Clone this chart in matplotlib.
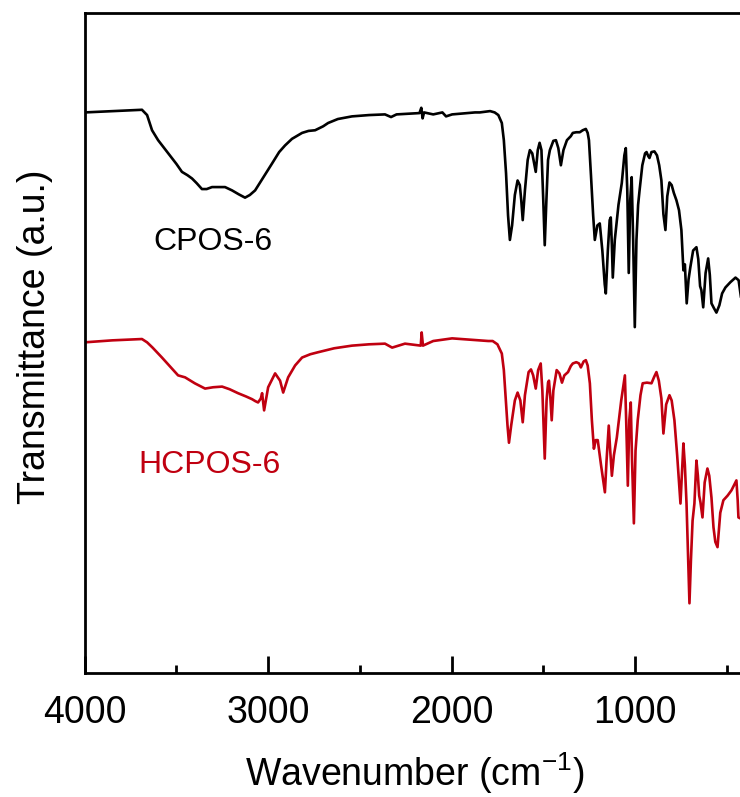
import matplotlib
matplotlib.use("Agg")
import matplotlib.pyplot as plt
from matplotlib.ticker import MultipleLocator

plt.rcParams['font.family'] = ['Liberation Sans', 'DejaVu Sans']

# CPOS-6 (black) — wavenumber (cm^-1) and transmittance (a.u.)
cpos_wn = [4000, 3850, 3688, 3660, 3633, 3600, 3550, 3500, 3470, 3440, 3415, 3390,
           3361, 3335, 3306, 3270, 3235, 3197, 3160, 3126, 3100, 3071, 3030, 2978,
           2940, 2908, 2870, 2815, 2780, 2744, 2700, 2673, 2620, 2543, 2450, 2363,
           2330, 2300, 2175, 2165, 2158, 2150, 2100, 2050, 2030, 1997, 1872, 1846,
           1790, 1765, 1745, 1726, 1715, 1703, 1692, 1682, 1670, 1655, 1640, 1628,
           1620, 1612, 1600, 1585, 1573, 1560, 1550, 1541, 1530, 1520, 1510, 1500,
           1492, 1483, 1474, 1464, 1445, 1431, 1418, 1404, 1390, 1371, 1350, 1339,
           1320, 1301, 1285, 1268, 1258, 1251, 1240, 1228, 1219, 1205, 1192, 1178,
           1165, 1159, 1148, 1138, 1132, 1126, 1121, 1110, 1090, 1072, 1058, 1050,
           1042, 1034, 1026, 1018, 1010, 1001, 992, 983, 975, 960, 945, 937, 928,
           921, 910, 894, 880, 868, 856, 845, 834, 824, 812, 800, 788, 774, 760,
           747, 736, 728, 718, 708, 698, 683, 665, 655, 645, 638, 628, 615, 601,
           592, 583, 570, 556, 540, 525, 507, 480, 452, 435, 420, 400]
cpos_t = [84.8, 85.0, 85.2, 84.4, 82.1, 80.6, 78.8, 77.0, 75.8, 75.3, 74.8, 74.1,
          73.2, 73.2, 73.5, 73.5, 73.5, 73.0, 72.4, 71.9, 72.3, 73.0, 74.8, 77.1,
          78.8, 79.8, 80.8, 81.7, 82.0, 82.1, 82.7, 83.2, 83.8, 84.2, 84.4, 84.5,
          84.1, 84.5, 84.7, 85.5, 83.9, 84.8, 84.5, 84.8, 84.2, 84.5, 84.8, 84.8,
          85.0, 84.8, 84.4, 83.2, 80.6, 75.6, 69.2, 65.5, 67.7, 72.3, 74.5, 73.8,
          71.5, 68.5, 73.0, 77.6, 79.1, 78.6, 77.1, 75.8, 79.1, 80.2, 79.1, 71.5,
          64.7, 71.5, 77.6, 79.1, 80.5, 80.6, 79.4, 76.8, 79.1, 80.6, 81.2, 81.7,
          81.8, 81.8, 82.1, 82.3, 81.7, 80.6, 75.3, 69.2, 65.5, 67.7, 68.0, 63.9,
          58.8, 57.4, 63.9, 68.5, 68.9, 64.7, 59.8, 65.5, 70.8, 74.1, 78.3, 79.4,
          73.0, 60.5, 71.5, 75.0, 65.5, 52.3, 65.5, 70.8, 73.0, 76.8, 78.6, 78.8,
          78.2, 77.9, 78.8, 78.9, 78.3, 76.8, 74.5, 69.4, 67.0, 72.1, 74.2, 73.8,
          72.6, 71.5, 70.0, 67.0, 60.9, 61.8, 55.9, 59.5, 61.4, 63.9, 64.4, 62.6,
          58.5, 57.9, 55.3, 60.5, 62.7, 60.2, 55.9, 55.2, 54.5, 55.6, 57.4, 58.3,
          59.1, 59.8, 59.4, 56.4, 55.6]

# HCPOS-6 (red)
hcpos_wn = [4000, 3850, 3688, 3660, 3630, 3579, 3530, 3491, 3453, 3400, 3344, 3300,
            3251, 3210, 3164, 3120, 3088, 3070, 3055, 3040, 3033, 3022, 3000, 2962,
            2935, 2918, 2891, 2853, 2815, 2770, 2728, 2640, 2543, 2450, 2363, 2324,
            2254, 2168, 2163, 2156, 2100, 1997, 1846, 1800, 1776, 1750, 1726, 1715,
            1703, 1695, 1687, 1675, 1655, 1640, 1625, 1612, 1600, 1580, 1567, 1555,
            1541, 1528, 1514, 1505, 1492, 1482, 1474, 1469, 1462, 1454, 1445, 1427,
            1412, 1398, 1385, 1365, 1350, 1339, 1320, 1305, 1295, 1280, 1268, 1258,
            1246, 1235, 1224, 1214, 1203, 1185, 1164, 1155, 1143, 1135, 1126, 1115,
            1099, 1075, 1055, 1048, 1039, 1031, 1023, 1016, 1006, 997, 985, 970,
            958, 935, 910, 895, 883, 870, 856, 845, 830, 812, 800, 785, 770, 752,
            743, 736, 728, 719, 710, 703, 695, 686, 676, 665, 657, 650, 643, 632,
            620, 605, 595, 583, 572, 562, 550, 535, 518, 495, 474, 447, 440, 436,
            400]
hcpos_t = [50.0, 50.3, 50.5, 50.0, 49.2, 47.7, 46.2, 45.0, 44.7, 43.8, 43.0, 43.2,
           43.3, 42.9, 42.3, 41.8, 41.4, 41.1, 40.9, 41.5, 42.3, 39.7, 43.2, 45.3,
           44.2, 42.4, 44.7, 46.5, 47.7, 48.2, 48.5, 49.1, 49.5, 49.7, 49.8, 49.2,
           49.8, 49.5, 51.5, 49.5, 50.2, 50.6, 50.3, 50.2, 50.2, 49.7, 48.3, 45.8,
           40.8, 37.4, 34.8, 37.4, 41.2, 42.4, 41.2, 37.9, 42.0, 45.5, 45.9, 45.0,
           43.0, 45.8, 46.8, 42.7, 32.4, 41.2, 43.9, 44.2, 41.9, 38.2, 42.7, 45.8,
           45.3, 43.9, 45.0, 45.5, 46.4, 46.8, 47.0, 46.8, 46.2, 47.1, 47.3, 46.5,
           43.8, 38.2, 33.9, 35.2, 35.2, 31.4, 27.3, 32.1, 37.4, 33.6, 29.8, 32.9,
           35.6, 41.2, 45.0, 38.2, 28.3, 38.2, 40.9, 32.1, 22.6, 33.6, 38.2, 42.0,
           43.8, 43.9, 43.8, 44.8, 45.5, 44.2, 41.5, 36.2, 40.6, 42.0, 41.2, 38.2,
           32.9, 25.6, 30.6, 34.7, 31.4, 25.6, 17.0, 10.5, 17.0, 23.0, 25.6, 32.1,
           29.8, 26.8, 25.8, 23.5, 28.8, 30.9, 29.8, 26.5, 22.0, 19.8, 19.0, 24.2,
           26.1, 26.8, 27.6, 29.1, 26.1, 23.5, 23.0]

series_names = ["CPOS-6", "HCPOS-6"]
series_colors = ["#000000", "#C00010"]

fig = plt.figure(figsize=(7.40, 7.97), dpi=100)
ax = fig.add_axes([0.1145, 0.156, 0.8923, 0.8277])

ax.plot(cpos_wn, cpos_t, color=series_colors[0], lw=1.9,
        solid_joinstyle='round', solid_capstyle='round')
ax.plot(hcpos_wn, hcpos_t, color=series_colors[1], lw=1.9,
        solid_joinstyle='round', solid_capstyle='round')

ax.set_xlim(4000, 400)
ax.set_ylim(0, 99.85)

ax.text(3301, 65.2, series_names[0], color=series_colors[0], fontsize=23,
        ha='center', va='center')
ax.text(3322, 31.4, series_names[1], color=series_colors[1], fontsize=23,
        ha='center', va='center')

ax.xaxis.set_major_locator(MultipleLocator(1000))
ax.xaxis.set_minor_locator(MultipleLocator(500))
ax.tick_params(axis='x', which='major', direction='in', length=12.5, width=2.0,
               labelsize=27, pad=16)
ax.tick_params(axis='x', which='minor', direction='in', length=6, width=2.0)
ax.set_yticks([])
for s in ax.spines.values():
    s.set_linewidth(2.0)

ax.set_xlabel(r'Wavenumber (cm$^{\mathregular{-1}}$)', fontsize=27, va='center')
ax.xaxis.set_label_coords(0.5, -0.152)
ax.set_ylabel('Transmittance (a.u.)', fontsize=27, va='center')
ax.yaxis.set_label_coords(-0.075, 0.509)

fig.savefig('out.png', dpi=100)
